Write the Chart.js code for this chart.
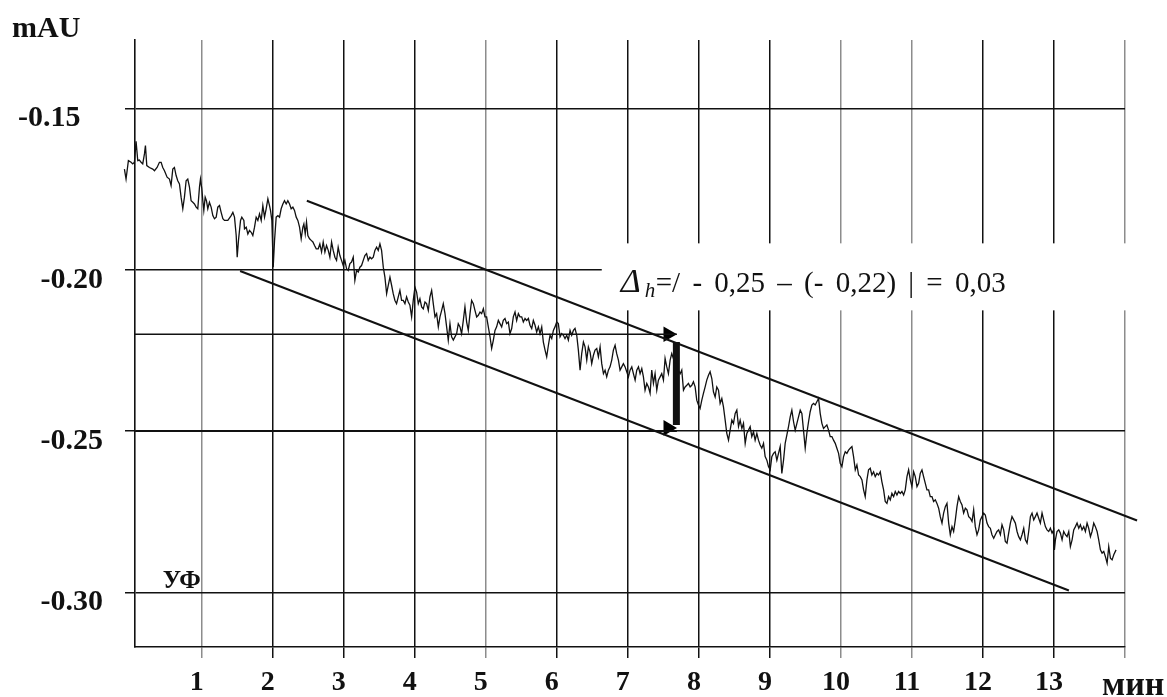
<!DOCTYPE html>
<html>
<head>
<meta charset="utf-8">
<script src="https://cdn.jsdelivr.net/npm/chart.js@4.4.1/dist/chart.umd.min.js"></script>
<style>
  body { margin: 0; background: #fff; }
  canvas { display: block; }
</style>
</head>
<body>
<canvas id="uvChart" width="1167" height="697"></canvas>
<script>
// UV detector baseline, time in min
const traceTime = [
  -0.089,-0.066,-0.033,0.005,0.028,0.052,0.075,0.099,0.122,0.146,
  0.169,0.193,0.207,0.226,0.263,0.310,0.334,0.371,0.404,0.428,
  0.451,0.475,0.512,0.545,0.568,0.592,0.615,0.639,0.662,0.686,
  0.709,0.733,0.756,0.780,0.803,0.827,0.850,0.874,0.897,0.921,
  0.944,0.968,0.982,1.001,1.015,1.029,1.048,1.066,1.085,1.108,
  1.132,1.156,1.179,1.203,1.226,1.250,1.273,1.297,1.320,1.367,
  1.414,1.438,1.461,1.485,1.499,1.517,1.546,1.564,1.593,1.602,
  1.626,1.649,1.672,1.696,1.719,1.743,1.766,1.790,1.813,1.837,
  1.860,1.884,1.907,1.931,1.954,1.968,1.987,2.006,2.025,2.048,
  2.072,2.095,2.118,2.142,2.165,2.189,2.212,2.236,2.259,2.283,
  2.306,2.330,2.353,2.377,2.400,2.424,2.438,2.457,2.475,2.494,
  2.518,2.541,2.565,2.588,2.612,
  2.640,2.663,2.687,2.710,2.734,2.757,2.781,2.804,2.828,2.851,
  2.875,2.898,2.921,2.945,2.968,2.992,3.015,3.039,3.062,3.086,
  3.109,3.133,3.156,3.180,3.203,3.227,3.250,3.274,3.297,3.321,
  3.344,3.368,3.391,3.415,3.438,3.462,3.485,3.509,3.532,3.556,
  3.579,3.603,3.626,3.650,3.673,3.696,3.720,3.743,3.767,3.790,
  3.814,3.837,3.861,3.884,3.908,3.931,3.955,3.978,4.002,4.025,
  4.049,4.072,4.096,4.119,4.143,4.166,4.190,4.213,4.237,4.260,
  4.284,4.307,4.331,4.354,4.378,4.401,4.425,4.448,4.471,4.495,
  4.518,4.542,4.565,4.589,4.612,4.636,4.659,4.683,4.706,4.730,
  4.753,4.777,4.800,4.824,4.847,4.871,4.894,4.918,4.941,4.965,
  4.988,
  5.011,5.035,5.059,5.082,5.106,5.129,5.152,5.176,5.199,5.223,
  5.246,5.270,5.293,5.317,5.340,5.364,5.387,5.411,5.434,5.458,
  5.481,5.505,5.528,5.552,5.575,5.599,5.622,5.646,5.669,5.693,
  5.716,5.740,5.763,5.787,5.810,5.834,5.857,5.881,5.904,5.928,
  5.951,5.974,5.998,6.021,6.045,6.068,6.092,6.115,6.139,6.162,
  6.186,6.209,6.233,6.256,6.280,6.303,6.327,6.350,6.374,6.397,
  6.421,6.444,6.468,6.491,6.515,6.538,6.562,6.585,6.609,6.632,
  6.656,6.679,6.702,6.726,6.749,6.773,6.796,6.820,6.843,6.867,
  6.890,6.914,6.937,6.961,6.984,7.008,7.031,7.055,7.078,7.102,
  7.125,7.149,7.172,7.196,7.219,7.242,7.266,7.289,7.313,7.336,
  7.360,7.383,7.407,7.430,7.454,7.477,7.501,
  7.524,7.548,7.571,7.595,7.618,7.665,7.736,7.759,7.783,7.806,
  7.830,7.853,7.877,7.900,7.923,7.947,7.970,7.994,8.017,8.041,
  8.064,8.088,8.111,8.135,8.158,8.182,8.205,8.229,8.252,8.276,
  8.299,8.323,8.346,8.370,8.393,8.417,8.440,8.464,8.487,8.511,
  8.534,8.558,8.581,8.605,8.628,8.652,8.675,8.699,8.722,8.745,
  8.769,8.792,8.816,8.839,8.863,8.886,8.910,8.933,8.957,8.980,
  9.004,9.027,9.051,9.074,9.098,9.121,9.145,9.168,9.192,9.215,
  9.239,9.262,9.286,9.309,9.333,9.356,9.380,9.403,9.427,9.450,
  9.473,9.497,9.520,9.544,9.567,9.591,9.614,9.638,9.661,9.685,
  9.708,9.732,9.755,9.779,9.802,9.826,9.849,9.873,9.896,9.920,
  9.943,9.967,9.990,10.014,
  10.037,10.061,10.084,10.108,10.131,10.155,10.178,10.202,10.225,10.249,
  10.272,10.296,10.319,10.342,10.366,10.389,10.413,10.436,10.460,10.483,
  10.507,10.530,10.554,10.577,10.601,10.624,10.648,10.671,10.695,10.718,
  10.742,10.765,10.789,10.812,10.836,10.859,10.883,10.906,10.930,10.953,
  10.977,11.000,11.024,11.047,11.071,11.094,11.117,11.141,11.164,11.188,
  11.211,11.235,11.258,11.282,11.305,11.329,11.352,11.376,11.399,11.423,
  11.446,11.470,11.493,11.517,11.540,11.564,11.587,11.611,11.634,11.658,
  11.681,11.705,11.728,11.752,11.775,11.799,11.822,11.846,11.869,11.892,
  11.916,11.939,11.963,11.986,12.010,12.033,12.057,12.080,12.104,12.127,
  12.151,12.174,12.198,12.221,12.245,12.268,12.292,12.315,12.339,12.362,
  12.386,12.409,12.433,12.456,12.480,12.503,12.527,12.550,12.574,12.597,
  12.621,12.644,12.668,12.691,12.715,12.738,12.761,12.785,12.808,12.832,
  12.855,12.879,12.902,12.926,12.949,12.973,12.996,13.006,13.020,13.043,
  13.067,13.090,13.114,13.137,13.161,13.184,13.208,13.231,13.255,13.278,
  13.302,13.325,13.349,13.372,13.395,13.419,13.442,13.466,13.489,13.513,
  13.536,13.560,13.583,13.607,13.630,13.654,13.677,13.701,13.724,13.748,
  13.771,13.795,13.818,13.842,13.874
];

// absorbance, mAU
const traceSignal = [
  -0.1688,-0.1719,-0.1662,-0.1667,-0.1672,-0.1667,-0.1602,-0.1662,-0.1660,-0.1667,
  -0.1672,-0.1641,-0.1615,-0.1677,-0.1683,-0.1688,-0.1693,-0.1683,-0.1667,-0.1667,
  -0.1683,-0.1693,-0.1713,-0.1719,-0.1739,-0.1688,-0.1683,-0.1708,-0.1724,-0.1734,
  -0.1775,-0.1811,-0.1775,-0.1724,-0.1719,-0.1744,-0.1786,-0.1791,-0.1796,-0.1806,
  -0.1811,-0.1744,-0.1719,-0.1749,-0.1786,-0.1816,-0.1775,-0.1786,-0.1811,-0.1791,
  -0.1806,-0.1832,-0.1842,-0.1837,-0.1806,-0.1801,-0.1822,-0.1842,-0.1847,-0.1847,
  -0.1832,-0.1822,-0.1837,-0.1894,-0.1961,-0.1909,-0.1847,-0.1837,-0.1847,-0.1873,
  -0.1868,-0.1889,-0.1878,-0.1884,-0.1894,-0.1868,-0.1837,-0.1847,-0.1827,-0.1847,
  -0.1801,-0.1837,-0.1811,-0.1780,-0.1801,-0.1816,-0.1847,-0.1992,-0.1909,-0.1837,
  -0.1832,-0.1837,-0.1811,-0.1796,-0.1786,-0.1796,-0.1786,-0.1796,-0.1811,-0.1806,
  -0.1816,-0.1837,-0.1847,-0.1868,-0.1904,-0.1868,-0.1858,-0.1889,-0.1852,-0.1894,
  -0.1904,-0.1909,-0.1914,-0.1925,-0.1935,
  -0.1935,-0.1920,-0.1945,-0.1914,-0.1945,-0.1925,-0.1940,-0.1961,-0.1914,-0.1940,
  -0.1961,-0.1971,-0.1930,-0.1956,-0.1971,-0.1987,-0.1971,-0.1997,-0.2002,-0.1981,
  -0.1976,-0.1961,-0.2033,-0.2002,-0.2007,-0.1992,-0.1987,-0.1971,-0.1956,-0.1950,
  -0.1971,-0.1961,-0.1966,-0.1961,-0.1940,-0.1930,-0.1940,-0.1920,-0.1940,-0.1992,
  -0.2023,-0.2074,-0.2048,-0.2023,-0.2048,-0.2074,-0.2095,-0.2105,-0.2084,-0.2064,
  -0.2095,-0.2095,-0.2105,-0.2084,-0.2100,-0.2110,-0.2146,-0.2095,-0.2054,-0.2069,
  -0.2105,-0.2090,-0.2115,-0.2121,-0.2100,-0.2105,-0.2126,-0.2084,-0.2064,-0.2105,
  -0.2146,-0.2136,-0.2177,-0.2146,-0.2126,-0.2105,-0.2136,-0.2177,-0.2218,-0.2167,
  -0.2208,-0.2218,-0.2208,-0.2198,-0.2167,-0.2177,-0.2198,-0.2157,-0.2115,-0.2162,
  -0.2188,-0.2136,-0.2095,-0.2105,-0.2126,-0.2146,-0.2141,-0.2131,-0.2136,-0.2121,
  -0.2146,
  -0.2146,-0.2177,-0.2208,-0.2244,-0.2218,-0.2188,-0.2177,-0.2157,-0.2167,-0.2177,
  -0.2157,-0.2151,-0.2167,-0.2162,-0.2198,-0.2182,-0.2146,-0.2131,-0.2157,-0.2136,
  -0.2146,-0.2146,-0.2162,-0.2151,-0.2157,-0.2151,-0.2172,-0.2182,-0.2157,-0.2172,
  -0.2193,-0.2177,-0.2198,-0.2177,-0.2224,-0.2249,-0.2270,-0.2234,-0.2203,-0.2213,
  -0.2188,-0.2177,-0.2162,-0.2167,-0.2208,-0.2198,-0.2203,-0.2213,-0.2203,-0.2218,
  -0.2188,-0.2203,-0.2188,-0.2182,-0.2203,-0.2249,-0.2311,-0.2260,-0.2224,-0.2239,
  -0.2280,-0.2239,-0.2255,-0.2291,-0.2265,-0.2249,-0.2244,-0.2270,-0.2239,-0.2291,
  -0.2322,-0.2311,-0.2332,-0.2311,-0.2301,-0.2280,-0.2249,-0.2234,-0.2260,-0.2280,
  -0.2311,-0.2301,-0.2291,-0.2301,-0.2316,-0.2332,-0.2311,-0.2301,-0.2322,-0.2342,
  -0.2311,-0.2301,-0.2322,-0.2306,-0.2332,-0.2373,-0.2352,-0.2363,-0.2383,-0.2311,
  -0.2352,-0.2322,-0.2373,-0.2342,-0.2332,-0.2322,-0.2342,
  -0.2275,-0.2301,-0.2322,-0.2280,-0.2260,-0.2291,-0.2322,-0.2311,-0.2373,-0.2363,
  -0.2358,-0.2352,-0.2363,-0.2358,-0.2347,-0.2363,-0.2404,-0.2419,-0.2430,-0.2404,
  -0.2383,-0.2363,-0.2342,-0.2327,-0.2316,-0.2337,-0.2378,-0.2394,-0.2363,-0.2373,
  -0.2414,-0.2399,-0.2425,-0.2466,-0.2507,-0.2528,-0.2497,-0.2466,-0.2476,-0.2445,
  -0.2435,-0.2486,-0.2466,-0.2492,-0.2476,-0.2538,-0.2507,-0.2497,-0.2486,-0.2517,
  -0.2502,-0.2528,-0.2507,-0.2528,-0.2543,-0.2553,-0.2538,-0.2579,-0.2590,-0.2610,
  -0.2620,-0.2579,-0.2569,-0.2564,-0.2590,-0.2569,-0.2548,-0.2631,-0.2590,-0.2538,
  -0.2512,-0.2486,-0.2456,-0.2435,-0.2471,-0.2497,-0.2476,-0.2456,-0.2435,-0.2445,
  -0.2497,-0.2553,-0.2507,-0.2471,-0.2440,-0.2419,-0.2414,-0.2419,-0.2409,-0.2399,
  -0.2445,-0.2476,-0.2492,-0.2486,-0.2481,-0.2497,-0.2517,-0.2517,-0.2528,-0.2538,
  -0.2553,-0.2569,-0.2600,-0.2610,
  -0.2579,-0.2564,-0.2569,-0.2559,-0.2553,-0.2548,-0.2579,-0.2620,-0.2605,-0.2636,
  -0.2641,-0.2651,-0.2682,-0.2703,-0.2651,-0.2620,-0.2615,-0.2636,-0.2626,-0.2641,
  -0.2631,-0.2636,-0.2626,-0.2657,-0.2682,-0.2718,-0.2724,-0.2703,-0.2713,-0.2693,
  -0.2703,-0.2687,-0.2698,-0.2687,-0.2693,-0.2687,-0.2698,-0.2682,-0.2641,-0.2620,
  -0.2651,-0.2672,-0.2626,-0.2641,-0.2672,-0.2662,-0.2631,-0.2620,-0.2641,-0.2662,
  -0.2682,-0.2682,-0.2703,-0.2703,-0.2718,-0.2713,-0.2724,-0.2739,-0.2765,-0.2785,
  -0.2754,-0.2734,-0.2724,-0.2785,-0.2821,-0.2796,-0.2811,-0.2775,-0.2734,-0.2703,
  -0.2718,-0.2729,-0.2754,-0.2739,-0.2744,-0.2765,-0.2770,-0.2780,-0.2744,-0.2796,
  -0.2821,-0.2806,-0.2775,-0.2765,-0.2754,-0.2760,-0.2785,-0.2796,-0.2801,-0.2821,
  -0.2832,-0.2821,-0.2811,-0.2806,-0.2821,-0.2790,-0.2806,-0.2842,-0.2847,-0.2816,
  -0.2785,-0.2765,-0.2775,-0.2785,-0.2811,-0.2827,-0.2837,-0.2821,-0.2801,-0.2837,
  -0.2847,-0.2811,-0.2765,-0.2754,-0.2775,-0.2765,-0.2754,-0.2770,-0.2785,-0.2754,
  -0.2775,-0.2796,-0.2806,-0.2811,-0.2801,-0.2816,-0.2806,-0.2868,-0.2837,-0.2811,
  -0.2806,-0.2816,-0.2837,-0.2811,-0.2821,-0.2827,-0.2811,-0.2858,-0.2837,-0.2806,
  -0.2796,-0.2785,-0.2801,-0.2790,-0.2806,-0.2796,-0.2811,-0.2785,-0.2801,-0.2827,
  -0.2811,-0.2785,-0.2796,-0.2811,-0.2837,-0.2868,-0.2878,-0.2873,-0.2889,-0.2909,
  -0.2858,-0.2894,-0.2899,-0.2883,-0.2868
];

const xTicks = [1, 2, 3, 4, 5, 6, 7, 8, 9, 10, 11, 12, 13, 14];
const yTicks = [-0.30, -0.25, -0.20, -0.15];

// noise channel borders
const upperBoundX = [2.48, 14.17];
const upperBoundY = [-0.1786, -0.2777];
const lowerBoundX = [1.54, 13.21];
const lowerBoundY = [-0.2004, -0.2994];

// the two levels read off for the noise estimate
const levelX = [0.06, 7.69];
const levelHigh = -0.22;
const levelLow = -0.25;
const deltaBarX = [7.683, 7.683];
const deltaBarY = [-0.2224, -0.2481];
const arrowX = [7.565, 7.565];
const arrowY = [-0.2200, -0.2490];

const X_MIN = 0.06, X_MAX = 14, Y_MIN = -0.3169, Y_MAX = -0.1288;
const lightTicks = [1, 5, 10, 11, 14];
const SERIF = '"Liberation Serif", "Times New Roman", serif';

function pts(xs, ys) {
  return xs.map((x, i) => ({ x: x, y: ys[i] }));
}

const labelsPlugin = {
  id: "uvLabels",
  beforeDatasetsDraw(chart) {
    const ctx = chart.ctx;
    const xs = chart.scales.x, ys = chart.scales.y;
    const ax = xs.getPixelForValue(6.9);
    const ay = ys.getPixelForValue(-0.207);
    ctx.save();
    // white plate under the formula
    ctx.fillStyle = "#fff";
    ctx.fillRect(ax - 19, ay - 49, chart.chartArea.right + 12 - (ax - 19), 67);
    ctx.fillStyle = "#111";
    ctx.textBaseline = "alphabetic";
    ctx.font = "italic 34px " + SERIF;
    ctx.fillText("Δ", ax, ay);
    ctx.font = "italic 21px " + SERIF;
    ctx.fillText("h", ax + 24, ay + 5);
    ctx.font = "29px " + SERIF;
    if ("wordSpacing" in ctx) ctx.wordSpacing = "5px";
    ctx.fillText("=/ - 0,25 – (- 0,22) | = 0,03", ax + 35, ay);
    ctx.restore();
  },
  afterDraw(chart) {
    const ctx = chart.ctx;
    const xs = chart.scales.x, ys = chart.scales.y;
    ctx.save();
    ctx.fillStyle = "#111";
    ctx.textBaseline = "alphabetic";
    ctx.font = "bold 30px " + SERIF;
    ctx.fillText("mAU", 12, 37);
    ctx.font = "bold 25px " + SERIF;
    ctx.fillText("УФ", xs.getPixelForValue(0.45), ys.getPixelForValue(-0.2985));
    ctx.font = "bold 34px " + SERIF;
    ctx.fillText("мин", 1102, 695);
    ctx.restore();
  }
};

const line = (data, width) => ({
  data: data,
  showLine: true,
  borderColor: "#111",
  borderWidth: width,
  pointRadius: 0,
  clip: false
});

const ctx = document.getElementById("uvChart").getContext("2d");
new Chart(ctx, {
  type: "scatter",
  data: {
    datasets: [
      line(pts(traceTime, traceSignal), 1.3),
      line(pts(upperBoundX, upperBoundY), 2),
      line(pts(lowerBoundX, lowerBoundY), 2),
      line(pts(levelX, [levelHigh, levelHigh]), 1.6),
      line(pts(levelX, [levelLow, levelLow]), 1.6),
      Object.assign(line(pts(deltaBarX, deltaBarY), 7), { borderCapStyle: "butt" }),
      {
        data: pts(arrowX, arrowY),
        showLine: false,
        pointStyle: "triangle",
        pointRotation: 90,
        pointRadius: 9,
        pointBackgroundColor: "#000",
        pointBorderWidth: 0,
        clip: false
      }
    ]
  },
  options: {
    responsive: false,
    animation: false,
    layout: { padding: { left: 0, top: 39, right: 42, bottom: 0 } },
    plugins: {
      legend: { display: false },
      tooltip: { enabled: false }
    },
    scales: {
      x: {
        type: "linear",
        bounds: "data",
        // range set here (not via min/max) so the trace start left of the axis is kept
        afterDataLimits: (s) => { s.min = X_MIN; s.max = X_MAX; },
        afterBuildTicks: (s) => { s.ticks = xTicks.map((v) => ({ value: v })); },
        afterFit: (s) => { s.height = 50; },
        border: { display: true, color: "#111", width: 1.6 },
        grid: {
          color: (c) => (c.tick && lightTicks.includes(c.tick.value) ? "#8c8c8c" : "#111"),
          lineWidth: 1.5,
          tickLength: 11
        },
        ticks: {
          autoSkip: false,
          maxRotation: 0,
          padding: 8,
          labelOffset: -5,
          color: "#111",
          font: { family: SERIF, size: 28, weight: "bold" },
          callback: (v) => (v === 14 ? "" : String(v))
        }
      },
      y: {
        type: "linear",
        min: Y_MIN,
        max: Y_MAX,
        afterBuildTicks: (s) => { s.ticks = yTicks.map((v) => ({ value: v })); },
        afterFit: (s) => { s.width = 135; },
        border: { display: true, color: "#111", width: 1.6 },
        grid: { color: "#111", lineWidth: 1.5, tickLength: 10 },
        ticks: {
          padding: 22,
          labelOffset: 10,
          color: "#111",
          font: { family: SERIF, size: 30, weight: "bold" },
          // the top label sits further out from the axis
          callback: (v) => (v === -0.15 ? v.toFixed(2) + "   " : v.toFixed(2))
        }
      }
    }
  },
  plugins: [labelsPlugin]
});
</script>
</body>
</html>
